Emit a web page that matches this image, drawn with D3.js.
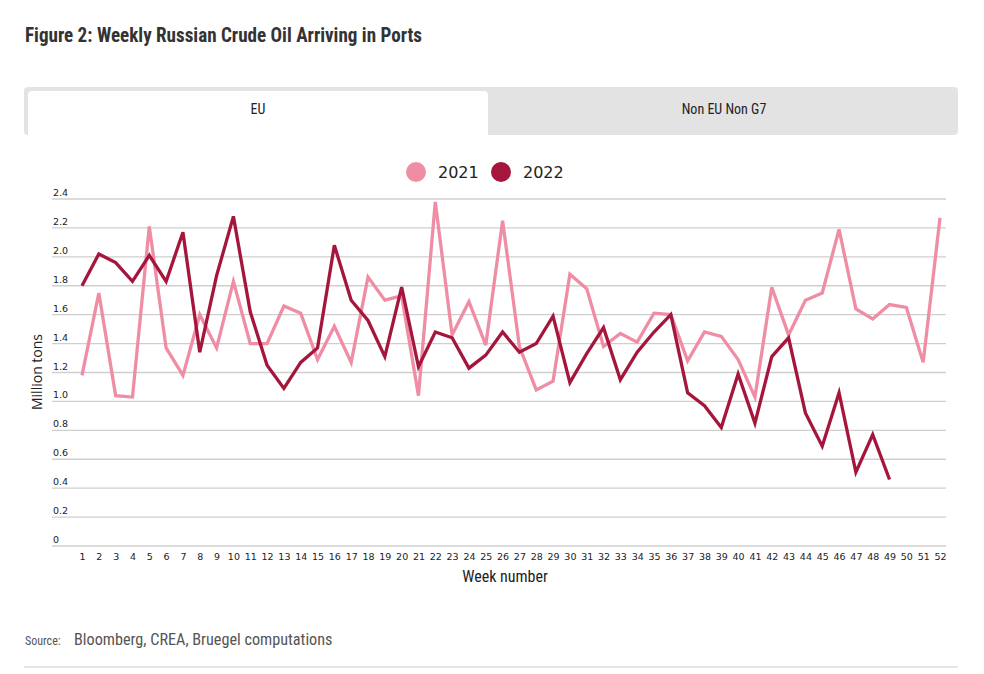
<!DOCTYPE html>
<html><head><meta charset="utf-8">
<script src="https://cdn.jsdelivr.net/npm/d3@7"></script>
<style>
body{margin:0;background:#fff;}
svg{display:block;}
</style></head><body>
<svg id="c" width="984" height="674"></svg>
<script>
const weeks = d3.range(1, 53);
const values2021 = [1.18,1.75,1.04,1.03,2.21,1.37,1.18,1.60,1.37,1.83,1.40,1.40,1.66,1.61,1.29,1.52,1.27,1.86,1.70,1.73,1.04,2.38,1.46,1.69,1.39,2.25,1.38,1.08,1.14,1.88,1.78,1.38,1.47,1.41,1.61,1.60,1.28,1.48,1.45,1.29,1.03,1.79,1.46,1.70,1.75,2.19,1.64,1.57,1.67,1.65,1.27,2.27];
const values2022 = [1.80,2.02,1.96,1.83,2.01,1.83,2.17,1.34,1.87,2.28,1.62,1.25,1.09,1.27,1.37,2.08,1.70,1.56,1.31,1.79,1.24,1.48,1.44,1.23,1.32,1.48,1.34,1.40,1.59,1.13,1.33,1.51,1.15,1.34,1.48,1.60,1.06,0.97,0.82,1.19,0.85,1.31,1.44,0.92,0.69,1.06,0.51,0.77,0.46];
const yTicks = [0,0.2,0.4,0.6,0.8,1.0,1.2,1.4,1.6,1.8,2.0,2.2,2.4];
const seriesNames = ["2021","2022"];
const seriesColors = ["#ef8da5","#a5163d"];
const tabs = ["EU","Non EU Non G7"];

const svg = d3.select("#c");
const condensed = "'Liberation Sans Narrow','Roboto Condensed','DejaVu Sans Condensed',sans-serif";

// Title
svg.append("text").attr("x",25).attr("y",42)
  .attr("font-family",condensed).attr("font-weight","bold").attr("font-size",20)
  .attr("fill","#333").attr("textLength",397).attr("lengthAdjust","spacingAndGlyphs")
  .text("Figure 2: Weekly Russian Crude Oil Arriving in Ports");

// Tabs
svg.append("rect").attr("x",24).attr("y",87).attr("width",934).attr("height",48).attr("rx",4).attr("fill","#e3e3e3");
svg.append("rect").attr("x",28).attr("y",91).attr("width",460).attr("height",44).attr("rx",4).attr("fill","#fff");
svg.append("rect").attr("x",28).attr("y",120).attr("width",460).attr("height",15).attr("fill","#fff");
svg.append("text").attr("x",258).attr("y",114).attr("text-anchor","middle")
  .attr("font-family",condensed).attr("font-size",14).attr("fill","#222").text(tabs[0]);
svg.append("text").attr("x",724).attr("y",114).attr("text-anchor","middle")
  .attr("font-family",condensed).attr("font-size",14).attr("fill","#222").text(tabs[1]);

// Scales
const x = d3.scalePoint().domain(weeks).range([82,940]);
const y = d3.scaleLinear().domain([0,2.4]).range([546,199]);

// Gridlines + y labels
const gy = svg.append("g");
gy.selectAll("line").data(yTicks).join("line")
  .attr("x1",52).attr("x2",946).attr("y1",d=>y(d)).attr("y2",d=>y(d))
  .attr("stroke","#cfcfcf").attr("stroke-width",1.3);
gy.selectAll("text").data(yTicks).join("text")
  .attr("x",53).attr("y",d=>y(d)-3)
  .attr("font-family","'DejaVu Sans',sans-serif").attr("font-size",9.5).attr("fill","#222")
  .text(d=> d===0 ? "0" : d3.format(".1f")(d));

// X axis labels
const xAxis = d3.axisBottom(x).tickSize(0).tickPadding(0);
const gx = svg.append("g").attr("transform","translate(0,553)").call(xAxis);
gx.select(".domain").remove();
gx.selectAll("text").attr("font-family","'DejaVu Sans',sans-serif").attr("font-size",9.5).attr("fill","#222").attr("dy","0.71em");

// Axis titles
svg.append("text").attr("transform","translate(42,372) rotate(-90)").attr("text-anchor","middle")
  .attr("font-family","'Open Sans',sans-serif").attr("font-size",14).attr("fill","#222").text("Million tons");
svg.append("text").attr("x",505).attr("y",582).attr("text-anchor","middle")
  .attr("font-family",condensed).attr("font-size",16).attr("fill","#222").text("Week number");

// Lines
const line = d3.line().x((d,i)=>x(weeks[i])).y(d=>y(d));
[values2021, values2022].forEach((vals,k)=>{
  svg.append("path").datum(vals).attr("d",line).attr("fill","none")
    .attr("stroke",seriesColors[k]).attr("stroke-width",3.3).attr("stroke-linejoin","miter");
});

// Legend
const legX = [416, 501];
seriesNames.forEach((n,k)=>{
  svg.append("circle").attr("cx",legX[k]).attr("cy",172).attr("r",10).attr("fill",seriesColors[k]);
  svg.append("text").attr("x",legX[k]+22).attr("y",178)
    .attr("font-family","'DejaVu Sans',sans-serif").attr("font-size",16).attr("fill","#222").text(n);
});

// Source
svg.append("text").attr("x",25).attr("y",645)
  .attr("font-family",condensed).attr("font-size",12).attr("fill","#555").text("Source:");
svg.append("text").attr("x",74).attr("y",645)
  .attr("font-family",condensed).attr("font-size",16.2).attr("fill","#555").text("Bloomberg, CREA, Bruegel computations");
svg.append("line").attr("x1",24).attr("x2",958).attr("y1",667).attr("y2",667).attr("stroke","#ccc").attr("stroke-width",1);
</script>
</body></html>
